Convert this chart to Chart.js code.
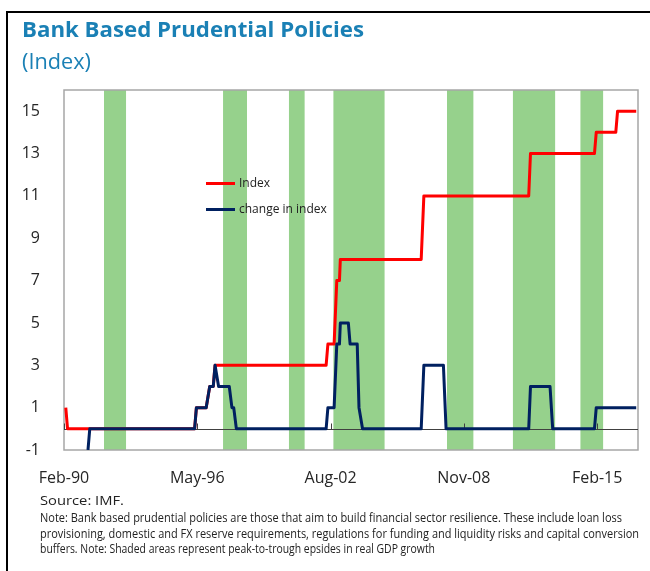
<!DOCTYPE html>
<html>
<head>
<meta charset="utf-8">
<title>Bank Based Prudential Policies</title>
<script src="https://cdn.jsdelivr.net/npm/chart.js@4.4.1/dist/chart.umd.min.js"></script>
<style>
  html, body { margin:0; padding:0; background:#fff; }
  body { position:relative; width:650px; height:571px; overflow:hidden; font-family:"Open Sans", sans-serif; color:#222; }
  #frameTop { position:absolute; left:6px; top:11px; width:644px; height:2px; background:#000; }
  #frameLeft { position:absolute; left:6px; top:11px; width:2px; height:560px; background:#000; }
  #chartBox { position:absolute; left:0; top:0; width:650px; height:571px; }
  .fit { position:absolute; white-space:nowrap; transform-origin:0 0; }
  #title { left:22px; top:13px; font-size:22px; font-weight:700; color:#1a80b5; line-height:30px; }
  #subtitle { left:22px; top:45px; font-size:22px; font-weight:400; color:#1a80b5; line-height:30px; }
  .note { left:40px; font-size:12px; line-height:16px; color:#222; }
  .leg { position:absolute; left:206px; height:16px; display:flex; align-items:center; font-size:12px; line-height:16px; color:#222; white-space:nowrap; }
  .leg i { display:block; width:29px; height:3px; margin-right:4px; }
</style>
</head>
<body>
<div id="chartBox"><canvas id="c" width="650" height="571"></canvas></div>
<div id="frameTop"></div>
<div id="frameLeft"></div>
<div id="title" class="fit">Bank Based Prudential Policies</div>
<div id="subtitle" class="fit">(Index)</div>
<div class="leg" style="top:175px"><i style="background:#ff0000"></i><span>Index</span></div>
<div class="leg" style="top:201px"><i style="background:#002060"></i><span>change in index</span></div>
<div id="n0" class="fit note" style="top:493px">Source: IMF.</div>
<div id="n1" class="fit note" style="top:510px">Note: Bank based prudential policies are those that aim to build financial sector resilience. These include loan loss</div>
<div id="n2" class="fit note" style="top:526px">provisioning, domestic and FX reserve requirements, regulations for funding and liquidity risks and capital conversion</div>
<div id="n3" class="fit note" style="top:541px">buffers. Note: Shaded areas represent peak-to-trough epsides in real GDP growth</div>
<script>
// ---- data (x = months since Feb-90) ----
const xTickMonths = [0, 75, 150, 225, 300];
const xTickLabels = ['Feb-90', 'May-96', 'Aug-02', 'Nov-08', 'Feb-15'];
const yTickValues = [-1, 1, 3, 5, 7, 9, 11, 13, 15];

const indexMonths = [1, 2, 73.5, 74.5, 80, 82, 84, 85, 147.5, 148.5, 152, 153.5, 155, 155.5, 201, 202.5, 261.5, 262.5, 298.5, 299.5, 310.5, 311.5, 322];
const indexValues = [1, 0, 0, 1, 1, 2, 2, 3, 3, 4, 4, 7, 7, 8, 8, 11, 11, 13, 13, 14, 14, 15, 15];

const changeMonths = [13.5, 14.5, 73.5, 74.5, 80, 82, 84, 85, 87, 93, 94.5, 95.5, 97,
  147.5, 148.5, 152, 153.5, 155, 155.5, 160, 161, 165, 166, 168,
  201, 202.5, 213.5, 215, 261.5, 262.5, 273.5, 275, 298.5, 299.5, 322];
const changeValues = [-1, 0, 0, 1, 1, 2, 2, 3, 2, 2, 1, 1, 0,
  0, 1, 1, 4, 4, 5, 5, 4, 4, 1, 0,
  0, 3, 3, 0, 0, 2, 2, 0, 0, 1, 1];

const shadeStart = [22.5, 89.5, 126.5, 151.5, 215.5, 252.5, 290.5];
const shadeEnd   = [35, 103, 135.5, 180.5, 230.5, 276.5, 303.5];

const X_MIN = 0, X_MAX = 323, Y_MIN = -1, Y_MAX = 16;

// ---- build datasets ----
const pts = (xs, ys) => xs.map((x, i) => ({ x: x, y: ys[i] }));
const shadePts = shadeStart.flatMap((s, i) => [
  { x: s, y: Y_MAX }, { x: shadeEnd[i], y: Y_MAX }, { x: shadeEnd[i], y: null }
]);

const zeroAxis = {
  id: 'zeroAxis',
  beforeDatasetDraw(chart, args) {
    if (args.index !== 1) return;
    const { ctx, chartArea: a, scales } = chart;
    const x = scales.x, y = scales.y;
    ctx.save();
    ctx.strokeStyle = '#a6a6a6';
    ctx.lineWidth = 1.5;
    ctx.strokeRect(a.left, a.top, a.right - a.left, a.bottom - a.top);
    const y0 = Math.round(y.getPixelForValue(0)) + 0.5;
    ctx.strokeStyle = '#404040';
    ctx.lineWidth = 1;
    ctx.beginPath();
    ctx.moveTo(a.left, y0);
    ctx.lineTo(a.right, y0);
    xTickMonths.forEach(m => {
      const px = Math.round(x.getPixelForValue(m)) + 0.5;
      ctx.moveTo(px, y0);
      ctx.lineTo(px, y0 - 6);
    });
    ctx.stroke();
    ctx.restore();
  }
};

const tickFont = { family: '"Open Sans", sans-serif', size: 16 };

new Chart(document.getElementById('c'), {
  type: 'line',
  data: {
    datasets: [
      { label: 'change in index', data: pts(changeMonths, changeValues), borderColor: '#002060', borderWidth: 3,
        pointRadius: 0, tension: 0, fill: false, borderJoinStyle: 'round' },
      { label: 'Index', data: pts(indexMonths, indexValues), borderColor: '#ff0000', borderWidth: 3,
        pointRadius: 0, tension: 0, fill: false, borderJoinStyle: 'round' },
      { label: 'shade', data: shadePts, borderColor: 'rgba(0,0,0,0)', borderWidth: 0, backgroundColor: '#96d18c',
        pointRadius: 0, tension: 0, fill: 'start', spanGaps: false }
    ]
  },
  options: {
    responsive: false,
    animation: false,
    devicePixelRatio: 1,
    layout: { padding: { top: 90, right: 12, bottom: 81, left: 0 } },
    plugins: { legend: { display: false }, tooltip: { enabled: false } },
    scales: {
      x: {
        type: 'linear', min: X_MIN, max: X_MAX, position: 'bottom',
        grid: { display: false }, border: { display: false },
        afterBuildTicks: s => { s.ticks = xTickMonths.map(v => ({ value: v })); },
        afterFit: s => { s.height = 40; },
        ticks: { autoSkip: false, maxRotation: 0, padding: 11, color: '#262626', font: tickFont,
          callback: v => xTickLabels[xTickMonths.indexOf(v)] }
      },
      y: {
        type: 'linear', min: Y_MIN, max: Y_MAX,
        grid: { display: false }, border: { display: false },
        afterBuildTicks: s => { s.ticks = yTickValues.map(v => ({ value: v })); },
        afterFit: s => { s.width = 64; },
        ticks: { padding: 16, color: '#262626', font: tickFont, callback: v => String(v) }
      }
    }
  },
  plugins: [zeroAxis]
});

// ---- squeeze text lines to the widths seen in the reference ----
const fitTargets = { title: 342, subtitle: 69, n0: 84, n1: 582, n2: 599, n3: 395 };
function fitAll() {
  Object.keys(fitTargets).forEach(id => {
    const el = document.getElementById(id);
    el.style.transform = 'none';
    const w = el.getBoundingClientRect().width;
    if (w > 0) el.style.transform = 'scaleX(' + (fitTargets[id] / w) + ')';
  });
}
fitAll();
if (document.fonts && document.fonts.ready) document.fonts.ready.then(fitAll);
</script>
</body>
</html>
